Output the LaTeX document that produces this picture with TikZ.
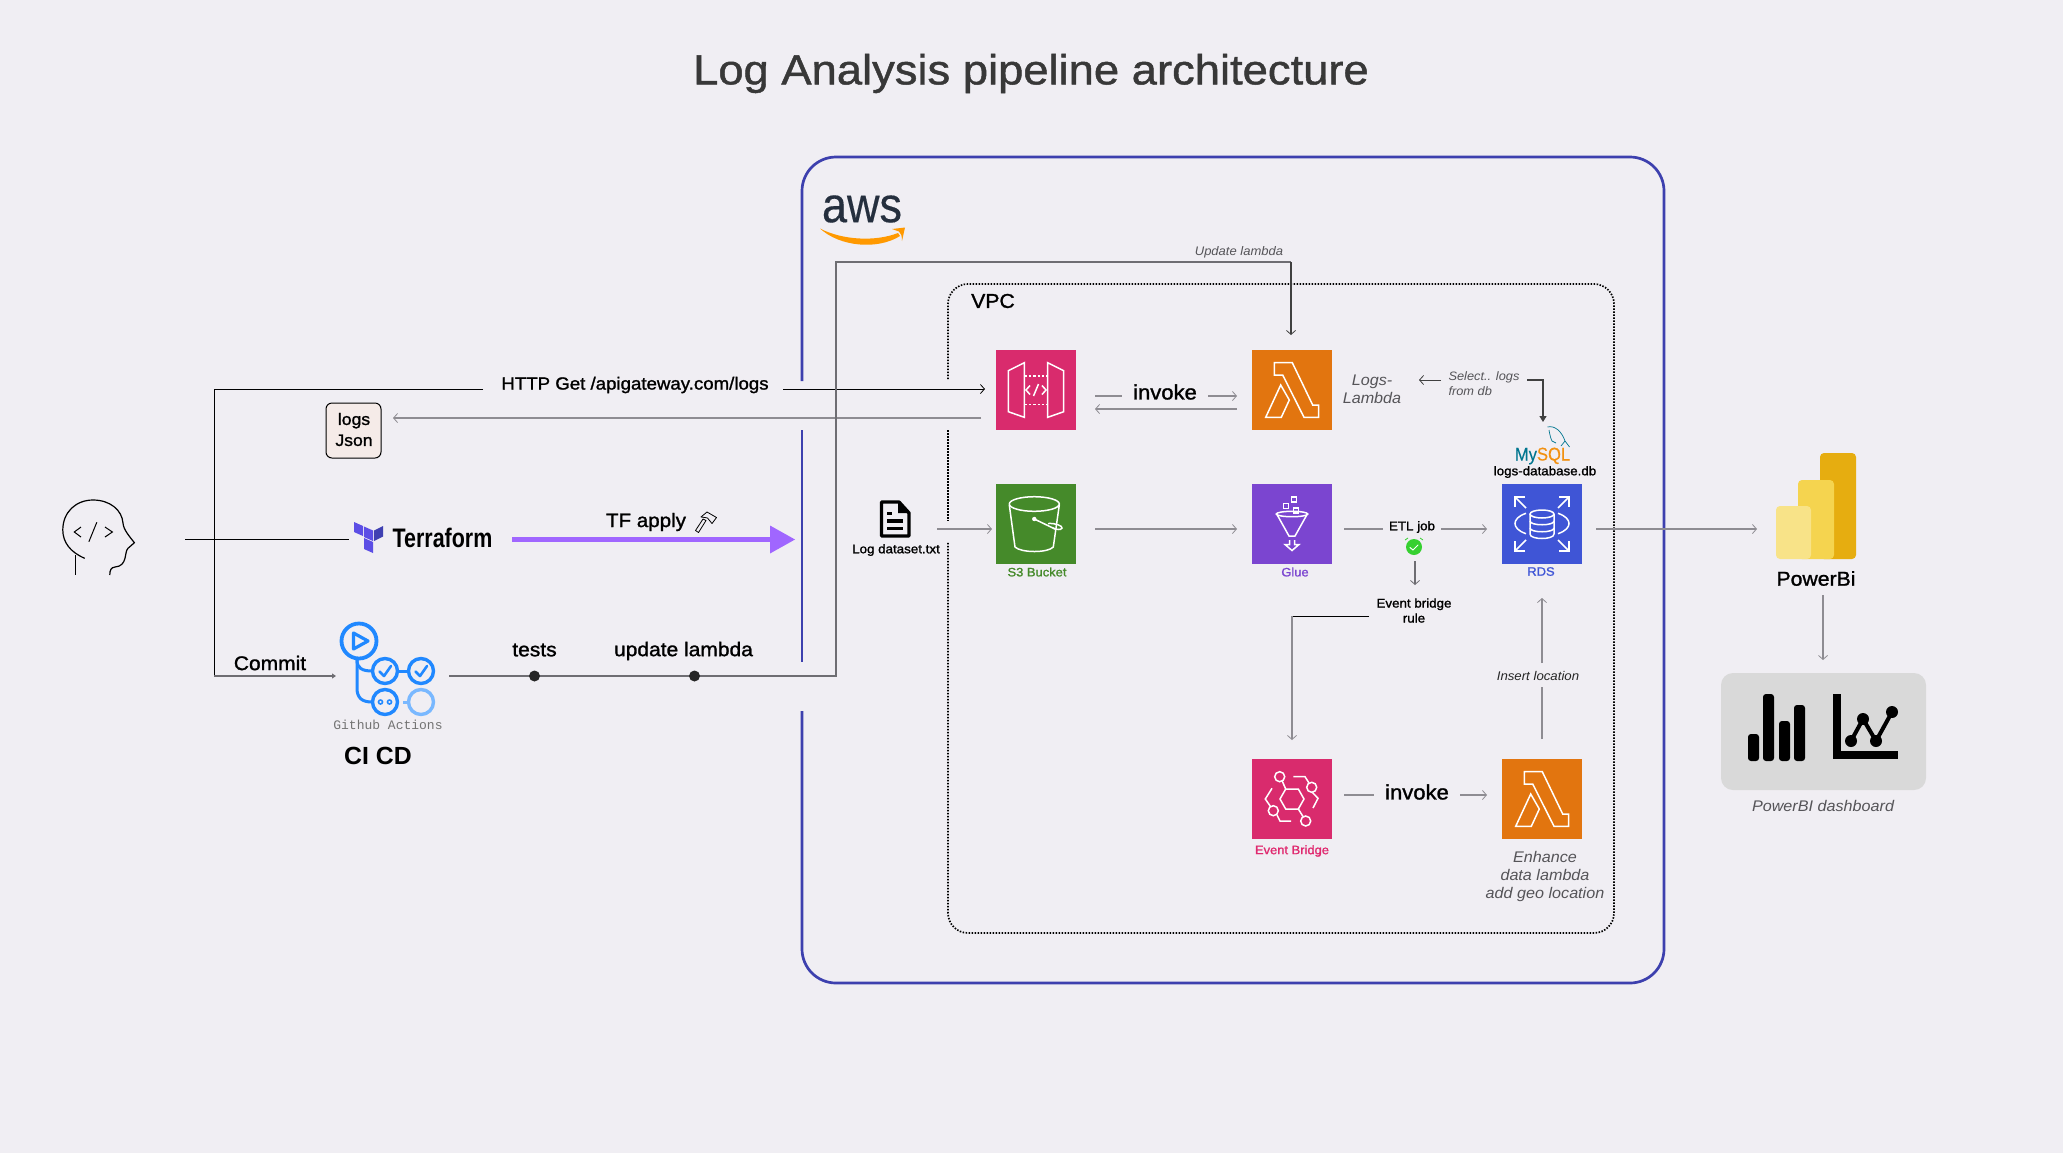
\documentclass[tikz,border=0pt]{standalone}
\usepackage{fontspec}
\usetikzlibrary{arrows.meta}
\setmainfont{Liberation Sans}[FakeStretch=1.05]
\newfontfamily\med[FakeBold=1.3,FakeStretch=1.06]{Liberation Sans}
\newfontfamily\tfont[FakeBold=1.1,FakeStretch=1.08]{Liberation Sans}
\newfontfamily\boldf{Liberation Sans Bold}
\newfontfamily\condb[FakeStretch=0.8]{Liberation Sans Bold}
\newfontfamily\awsf[FakeStretch=0.9,FakeBold=0.3]{Liberation Sans}
\newfontfamily\mysqlf[FakeStretch=0.9,FakeBold=0.3]{Liberation Sans}
\newfontfamily\ghmono{Liberation Mono}
\newcommand\fz[2]{\fontsize{#1}{#2}\selectfont}
\definecolor{bgc}{HTML}{F0EEF3}
\definecolor{awsc}{HTML}{3D40AE}
\definecolor{lnc}{HTML}{8E8C92}
\definecolor{dlc}{HTML}{6E6D72}
\definecolor{txg}{HTML}{555458}
\definecolor{pinkc}{HTML}{D92B6D}
\definecolor{pinkt}{HTML}{E0296F}
\definecolor{orc}{HTML}{E2750F}
\definecolor{grc}{HTML}{458A2A}
\definecolor{puc}{HTML}{7B45D0}
\definecolor{blc}{HTML}{3F55D6}
\definecolor{gh}{HTML}{2088FF}
\definecolor{ghl}{HTML}{79B8FF}
\definecolor{tfl}{HTML}{5C4EE5}
\definecolor{tfd}{HTML}{4040B2}
\definecolor{tfarrow}{HTML}{A066FF}
\definecolor{awsink}{HTML}{252F3E}
\definecolor{smile}{HTML}{FF9900}
\definecolor{logsbg}{HTML}{F5EBE8}
\definecolor{alarmc}{HTML}{36D030}
\definecolor{msteal}{HTML}{00758F}
\definecolor{msor}{HTML}{F29111}
\definecolor{pbd}{HTML}{E6AD10}
\definecolor{pbm}{HTML}{F5D44F}
\definecolor{pbl}{HTML}{F8E388}
\definecolor{dashbg}{HTML}{D9D9D9}
\tikzset{
  x=0.5pt,y=-0.5pt,
  every node/.style={inner sep=0pt,outer sep=0pt},
  tip/.style={-{Straight Barb[length=2pt,width=4.5pt,line width=.4pt]}},
  gline/.style={draw=lnc,line width=.7pt},
  dline/.style={draw=dlc,line width=.7pt},
  kline/.style={draw=black,line width=.5pt},
  icon/.style={minimum size=40pt,draw=none},
  glyph/.style={draw=white,line width=.75pt,line join=miter},
  midlabel/.style={font=\med\fz{9.9}{12},text=black},
  smalllabel/.style={font=\med\fz{6.3}{7.5},text=black,align=center},
  italg/.style={font=\itshape\fz{7.7}{9},text=txg,align=center},
  italsm/.style={font=\itshape\fz{6.1}{7.5},text=txg,align=left},
  svc/.style={font=\med\fz{6.1}{7}},
}
\newcommand\lambdaglyph{%
  \draw[glyph] (22.3,12.7)--(40.3,12.7)--(60.7,55)--(66.7,55)--(66.7,67.3)--(52,67.3)--(30.7,25)--(22.3,25)--cycle;
  \draw[glyph] (28.7,35)--(37.3,50)--(29.3,67.3)--(13.7,67.3)--cycle;}
\begin{document}
\begin{tikzpicture}
\useasboundingbox (0,0) rectangle (2063,1153);
\fill[bgc] (0,0) rectangle (2063,1153);
\node[font=\tfont\fz{21}{25},text=black!78] (title) at (1031,73.5) {Log Analysis pipeline architecture};

% --- AWS frame
\draw[draw=awsc,line width=1.35pt,rounded corners=17pt] (802,381)--(802,157)--(1664,157)--(1664,983)--(802,983)--(802,711);
\draw[draw=awsc,line width=1.35pt] (802,430)--(802,662);
% aws logo
\node[font=\awsf\fz{25}{25},text=awsink] (awstxt) at (862,209) {aws};
\fill[smile] (820,228.5) .. controls (842,240) and (875,242) .. (898,233) -- (900,236) .. controls (878,250) and (840,247) .. (820,228.5) -- cycle;
\fill[smile] (892,229) -- (905,227.5) -- (902,241) .. controls (902,236) and (901,233) .. (899,231.5) -- cycle;

% --- VPC frame
\draw[black,line width=.85pt,dash pattern=on .75pt off .75pt,rounded corners=10pt] (948,379)--(948,284)--(1614,284)--(1614,933)--(948,933)--(948,542);
\draw[black,line width=.85pt,dash pattern=on .75pt off .75pt] (948,430)--(948,521);
\node[font=\med\fz{10}{12}] (vpc) at (993,301) {VPC};

% --- service icons
\node[icon,fill=pinkc] (apigw) at (1036,390) {};
\node[icon,fill=orc] (lam1) at (1292,390) {};
\node[icon,fill=grc] (s3) at (1036,524) {};
\node[icon,fill=puc] (glue) at (1292,524) {};
\node[icon,fill=blc] (rds) at (1542,524) {};
\node[icon,fill=pinkc] (evb) at (1292,799) {};
\node[icon,fill=orc] (lam2) at (1542,799) {};

\begin{scope}[shift={(apigw.north west)}]
  \draw[glyph] (12.3,20.7)--(28.3,12.7)--(28.3,67.3)--(12.3,61.7)--cycle;
  \draw[glyph] (51.7,12.7)--(67.7,20.7)--(67.7,61.7)--(51.7,67.3)--cycle;
  \draw[glyph,dash pattern=on 1.2pt off 1pt] (28.3,26)--(51.7,26);
  \draw[glyph,dash pattern=on 1.2pt off 1pt] (28.3,54.3)--(51.7,54.3);
  \draw[glyph] (34,35.5)--(30,40)--(34,44.5);
  \draw[glyph] (46,35.5)--(50,40)--(46,44.5);
  \draw[glyph] (42.5,34)--(37.5,46);
\end{scope}
\begin{scope}[shift={(lam1.north west)}]\lambdaglyph\end{scope}
\begin{scope}[shift={(lam2.north west)}]\lambdaglyph\end{scope}
\begin{scope}[shift={(s3.north west)}]
  \draw[glyph] (38.3,20) ellipse [x radius=25,y radius=7.3];
  \draw[glyph] (13.3,21) -- (19,63) .. controls (25,69) and (52,69) .. (57.3,63) -- (63.3,21);
  \draw[glyph] (38.3,35) -- (60,45.5);
  \fill[white] (38.3,35) circle [radius=2.2];
  \draw[glyph] (52,39.5) .. controls (60,39) and (66.5,42) .. (66,44) .. controls (65,46.5) and (60,45.5) .. (57,44);
\end{scope}
\begin{scope}[shift={(glue.north west)}]
  \draw[glyph] (40,30) ellipse [x radius=15.7,y radius=2.7];
  \draw[glyph] (24.7,30)--(37,52)--(43,52)--(55.3,30);
  \draw[glyph] (31.5,19.5) rectangle +(5,5);
  \draw[glyph] (39.5,13) rectangle +(5,5);
  \draw[glyph] (41.5,24) rectangle +(5,5);
  \draw[glyph] (37.5,56)--(37.5,60.5)--(33,60.5)--(40,66.5)--(47,60.5)--(42.5,60.5)--(42.5,56);
\end{scope}
\begin{scope}[shift={(rds.north west)}]
  \draw[glyph] (40,30) ellipse [x radius=12,y radius=4];
  \draw[glyph] (28,30)--(28,50) .. controls (28,56) and (52,56) .. (52,50) -- (52,30);
  \draw[glyph] (28,37) .. controls (28,42) and (52,42) .. (52,37);
  \draw[glyph] (28,44) .. controls (28,49) and (52,49) .. (52,44);
  \draw[glyph] (24,29.3) .. controls (16,32) and (13,36) .. (13,39.5) .. controls (13,43) and (16,47) .. (24,49.7);
  \draw[glyph] (56,29.3) .. controls (64,32) and (67,36) .. (67,39.5) .. controls (67,43) and (64,47) .. (56,49.7);
  \draw[glyph] (24,24)--(13,13); \draw[glyph] (23,13)--(13,13)--(13,23);
  \draw[glyph] (56,24)--(67,13); \draw[glyph] (57,13)--(67,13)--(67,23);
  \draw[glyph] (24,56)--(13,67); \draw[glyph] (23,67)--(13,67)--(13,57);
  \draw[glyph] (56,56)--(67,67); \draw[glyph] (57,67)--(67,67)--(67,57);
\end{scope}
\begin{scope}[shift={(evb.north west)}]
  \draw[glyph] (28,40)--(33.7,30)--(46.3,30)--(52,40)--(46.3,50)--(33.7,50)--cycle;
  \draw[glyph] (27.7,17.7) circle [radius=5];
  \draw[glyph] (59.7,28.3) circle [radius=5];
  \draw[glyph] (21.3,51.7) circle [radius=5];
  \draw[glyph] (53.7,62) circle [radius=5];
  \draw[glyph] (30.2,22)--(33.7,30);
  \draw[glyph] (41.3,17.7)--(53,17.7)--(57,24);
  \draw[glyph] (60.5,33.5)--(66,39.3)--(61,49);
  \draw[glyph] (20,29.3)--(13.3,40)--(18.5,47.5);
  \draw[glyph] (25,56)--(28,62)--(39,62);
  \draw[glyph] (46.3,50)--(51,57.5);
\end{scope}

% --- service labels
\node[svc,text=grc] (s3lab) at (1037,572) {S3 Bucket};
\node[svc,text=puc] (gluelab) at (1295,572) {Glue};
\node[svc,text=blc] (rdslab) at (1541,571.5) {RDS};
\node[svc,text=pinkt] (evblab) at (1292,851) {Event Bridge};
\node[italg] (lam1lab) at (1372,389) {Logs-\\Lambda};
\node[italg] (lam2lab) at (1545,877) {Enhance\\data lambda\\add geo location};

% --- developer (head)
\draw[black,line width=.6pt] (84.7,558.3) .. controls (70,552) and (62.8,542) .. (62.8,530) .. controls (62.8,512) and (76,500) .. (93,500) .. controls (110,500) and (122,510) .. (123,523) .. controls (123.5,530) and (130,537) .. (134.4,542.7) -- (128,548.3) .. controls (124,552) and (128,566) .. (115,567) .. controls (111,567.5) and (109.8,570) .. (109.8,575);
\draw[black,line width=.6pt] (75.8,555) -- (75.8,575);
\draw[black,line width=.5pt] (81,527)--(74.3,532)--(81,537);
\draw[black,line width=.5pt] (96.8,522.3)--(88.9,541.7);
\draw[black,line width=.5pt] (105,527)--(112.4,532)--(105,537);
\coordinate (devout) at (185,539);

% --- terraform
\fill[tfl] (354,522)--(363,526)--(363,536)--(354,532)--cycle;
\fill[tfl] (364,526.5)--(373,530.5)--(373,541)--(364,537)--cycle;
\fill[tfd] (383,526)--(374,530.5)--(374,541)--(383,536.5)--cycle;
\fill[tfl] (364,538)--(373,542)--(373,553)--(364,549)--cycle;
\node[font=\condb\fz{13.4}{15}] (tf) at (442.5,538) {Terraform};
\coordinate (tfin) at (349,539);
\coordinate (tfout) at (512,539.5);
\coordinate (tfend) at (770,539.5);
\coordinate (tfheadtop) at (770,525.5);
\coordinate (tfheadbot) at (770,553.5);
\coordinate (tftip) at (795,539.5);
\draw[kline] (devout) -- (tfin);
\draw[tfarrow,line width=2.5pt] (tfout) -- (tfend);
\fill[tfarrow] (tfheadtop) -- (tftip) -- (tfheadbot) -- cycle;
\node[midlabel,font=\med\fz{9.7}{12}] (tfapply) at (646,522) {TF apply};
\draw[black,line width=.4pt,line join=round] (695.5,530.5)--(703,519)--(706,520.5)--(698.5,532.5)--cycle;
\draw[black,line width=.4pt,line join=round] (701,517)--(707,512)--(716.5,517.5)--(712,523.5)--(707.5,518)--(705,517.5)--cycle;

% --- github actions
\draw[gh,line width=1.9pt] (359,641) circle [radius=17.5];
\draw[gh,line width=1.6pt,line join=round] (353.5,633)--(353.5,649)--(368,641)--cycle;
\draw[gh,line width=1.7pt] (385,671) circle [radius=12.5];
\draw[gh,line width=1.7pt] (421,671) circle [radius=12.5];
\draw[gh,line width=1.7pt] (385,702) circle [radius=12.5];
\draw[ghl,line width=1.7pt] (421,702) circle [radius=12.5];
\draw[gh,line width=1.3pt,line cap=round,line join=round] (379.5,671.5)--(384,676)--(391,666);
\draw[gh,line width=1.3pt,line cap=round,line join=round] (415.5,671.5)--(420,676)--(427,666);
\draw[gh,line width=.8pt] (380.5,702) circle [radius=2];
\draw[gh,line width=.8pt] (389.5,702) circle [radius=2];
\draw[gh,line width=1.5pt] (357,659) -- (357,660) .. controls (357,668) and (362,671) .. (372,671);
\draw[gh,line width=1.5pt] (357,660) -- (357,688) .. controls (357,698) and (362,702) .. (372,702);
\draw[gh,line width=1.5pt] (398,671) -- (408,671);
\draw[ghl,line width=1.5pt] (403,702) -- (408,702);
\node[font=\ghmono\fz{6.5}{8},text=black!55] (ghtxt) at (388,725) {Github Actions};
\node[font=\boldf\fz{12.4}{14}] (cicd) at (378,756) {CI CD};
\node[midlabel] (commit) at (270,663) {Commit};
\coordinate (ghin) at (336,676);
\coordinate (ghout) at (449,676);

% --- left connectors
\coordinate (trunk) at (214,389);
\coordinate (trunkb) at (214,676);
\node[midlabel,font=\med\fz{8.8}{10}] (http) at (635,385) {HTTP Get /apigateway.com/logs};
\coordinate (h1) at (483,389);
\coordinate (h2) at (783,389);
\coordinate (h3) at (985,389);
\draw[kline] (h1) -- (trunk) -- (trunkb);
\draw[dline,-{Triangle[length=2pt,width=2.5pt]}] (trunkb) -- (ghin);
\draw[kline,tip] (h2) -- (h3);
\node[draw=black,line width=.5pt,rounded corners=3pt,fill=logsbg,minimum width=27.5pt,minimum height=27.5pt] (logsjson) at (353.5,430.5) {};
\node[font=\med\fz{8.3}{10.5},align=center] (logstxt) at (354,429.5) {logs\\Json};
\coordinate (retstart) at (981,418);
\coordinate (retend) at (393,418);
\draw[gline,tip] (retstart) -- (retend);

% --- cicd to lambda
\coordinate (upc1) at (836,676);
\coordinate (upc2) at (836,262);
\coordinate (upc3) at (1291,262);
\coordinate (upc4) at (1291,335);
\draw[dline] (ghout) -- (upc1) -- (upc2) -- (upc3);
\draw[black!75,line width=.6pt,tip] (upc3) -- (upc4);
\node[circle,fill=black!85,minimum size=5.5pt] (dot1) at (534.5,676) {};
\node[circle,fill=black!85,minimum size=5.5pt] (dot2) at (694.5,676) {};
\node[midlabel] (tests) at (534.5,650) {tests};
\node[midlabel] (updl) at (683.5,651) {update lambda};
\node[italsm,font=\itshape\fz{6.2}{7.5}] (updtxt) at (1239,252) {Update lambda};

% --- log dataset
\draw[black,line width=1.7pt,line join=round] (881.5,502)--(899,502)--(909,513)--(909,536)--(881.5,536)--cycle;
\fill[black] (898,501)--(910,513)--(898,513)--cycle;
\fill[black] (887,511.5) rectangle (892,515);
\fill[black] (887,519) rectangle (903,522.5);
\fill[black] (887,526.5) rectangle (903,530);
\node[smalllabel] (logds) at (896,550) {Log dataset.txt};
\coordinate (ds1) at (937,529);
\coordinate (ds2) at (992,529);
\draw[gline,tip] (ds1) -- (ds2);

% --- invoke top
\node[midlabel,font=\med\fz{10.4}{12}] (inv1) at (1165,392) {invoke};
\coordinate (i1a) at (1095,396);
\coordinate (i1b) at (1122,396);
\coordinate (i1c) at (1208,396);
\coordinate (i1d) at (1237,396);
\draw[gline] (i1a) -- (i1b);
\draw[gline,tip] (i1c) -- (i1d);
\coordinate (i2a) at (1237,409);
\coordinate (i2b) at (1095,409);
\draw[gline,tip] (i2a) -- (i2b);

% --- S3 to glue
\coordinate (sg1) at (1095,529);
\coordinate (sg2) at (1237,529);
\draw[gline,tip] (sg1) -- (sg2);

% --- ETL
\node[smalllabel] (etl) at (1412,527) {ETL job};
\coordinate (e1) at (1344,529);
\coordinate (e2) at (1383,529);
\coordinate (e3) at (1441,529);
\coordinate (e4) at (1487,529);
\draw[gline] (e1) -- (e2);
\draw[gline,tip] (e3) -- (e4);
\node[circle,fill=alarmc,minimum size=8pt] (alarm) at (1414,547) {};
\draw[white,line width=.5pt,line cap=round] (1410,547.5)--(1413,550)--(1418,545);
\draw[alarmc,line width=.4pt] (1405,540)--(1408,538);
\draw[alarmc,line width=.4pt] (1423,540)--(1420,538);
\coordinate (a1) at (1415,561);
\coordinate (a2) at (1415,585);
\draw[dline,tip] (a1) -- (a2);
\node[smalllabel] (ebr) at (1414,610.5) {Event bridge\\rule};
\coordinate (b1) at (1369,616);
\coordinate (b2) at (1292,616);
\coordinate (b3) at (1292,740);
\draw[kline] (b1) -- (b2);
\draw[gline,tip] (b2) -- (b3);

% --- invoke bottom
\node[midlabel,font=\med\fz{10.4}{12}] (inv2) at (1417,792) {invoke};
\coordinate (j1) at (1344,795);
\coordinate (j2) at (1374,795);
\coordinate (j3) at (1460,795);
\coordinate (j4) at (1487,795);
\draw[gline] (j1) -- (j2);
\draw[gline,tip] (j3) -- (j4);

% --- insert location
\node[font=\itshape\fz{6.3}{7.5},text=black!85] (insloc) at (1538,676) {Insert location};
\coordinate (k1) at (1542,739);
\coordinate (k2) at (1542,687);
\coordinate (k3) at (1542,663);
\coordinate (k4) at (1542,598);
\draw[gline] (k1) -- (k2);
\draw[gline,tip] (k3) -- (k4);

% --- select logs
\node[italsm] (sel) at (1484,383.5) {Select.. logs\\from db};
\coordinate (s1) at (1441,380);
\coordinate (s2) at (1419,380);
\draw[black!75,line width=.5pt,tip] (s1) -- (s2);
\coordinate (t1) at (1527,380);
\coordinate (t2) at (1543,380);
\coordinate (t3) at (1543,422);
\draw[black!75,line width=.6pt,-{Triangle[length=3pt,width=3.5pt]}] (t1) -- (t2) -- (t3);

% --- mysql
\node[font=\mysqlf\fz{9.2}{11}] (mysql) at (1542.5,456) {\textcolor{msteal}{My}\textcolor{msor}{SQL}};
\draw[msteal,line width=.35pt] (1547.5,427) .. controls (1555,425) and (1562,432) .. (1565,441) -- (1569.5,447);
\draw[msteal,line width=.35pt] (1549,430) .. controls (1550,436) and (1551,439) .. (1552,441) -- (1556,443);
\draw[msteal,line width=.35pt] (1565,441) -- (1561,446);
\node[smalllabel] (logsdb) at (1545,472) {logs-database.db};

% --- powerbi
\coordinate (p1) at (1596,529);
\coordinate (p2) at (1757,529);
\draw[gline,tip] (p1) -- (p2);
\fill[pbd,rounded corners=2pt] (1820,453) rectangle (1856,559);
\fill[pbm,rounded corners=2pt] (1798,480) -- (1834,480) -- (1834,559) -- (1798,559) -- cycle;
\fill[pbl,rounded corners=2pt] (1776,506) -- (1811,506) -- (1811,559) -- (1776,559) -- cycle;
\node[font=\med\fz{10}{12}] (pbi) at (1816,578.5) {PowerBi};
\coordinate (q1) at (1823,595);
\coordinate (q2) at (1823,660);
\draw[gline,tip] (q1) -- (q2);
\node[fill=dashbg,rounded corners=6pt,minimum width=102.5pt,minimum height=58.5pt] (dash) at (1823.5,731.5) {};
\fill[black,rounded corners=1.5pt] (1748,734) rectangle (1759,761);
\fill[black,rounded corners=1.5pt] (1763,694) rectangle (1774,761);
\fill[black,rounded corners=1.5pt] (1779,721) rectangle (1790,761);
\fill[black,rounded corners=1.5pt] (1794,705) rectangle (1805,761);
\fill[black] (1833,694) rectangle (1841,759);
\fill[black] (1833,751) rectangle (1898,759);
\draw[black,line width=2pt] (1851,741)--(1863,719)--(1876,741)--(1892,712);
\fill[black] (1851,741) circle [radius=6];
\fill[black] (1863,719) circle [radius=6];
\fill[black] (1876,741) circle [radius=6];
\fill[black] (1892,712) circle [radius=6];
\node[font=\itshape\fz{7.7}{9},text=txg] (dashlab) at (1823,806) {PowerBI dashboard};
\end{tikzpicture}
\end{document}
